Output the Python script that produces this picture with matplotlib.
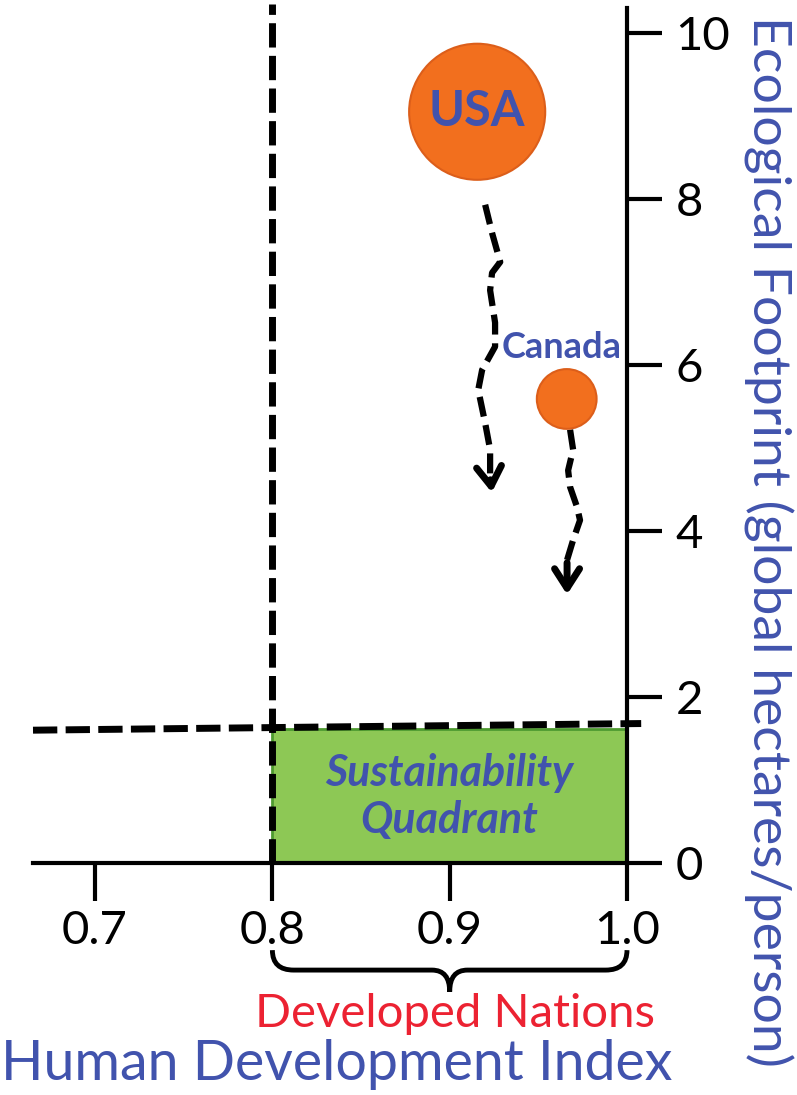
import matplotlib.pyplot as plt
from matplotlib.path import Path
from matplotlib.patches import PathPatch

plt.rcParams['font.family'] = ['Lato', 'DejaVu Sans']

# data ------------------------------------------------------------------
x_ticks = [0.7, 0.8, 0.9, 1.0]
x_labels = ['0.7', '0.8', '0.9', '1.0']
y_ticks = [0, 2, 4, 6, 8, 10]

countries = ['USA', 'Canada']
hdi = [0.9155, 0.966]
footprint = [9.05, 5.59]
bubble_size = [9600, 1850]

# sustainability thresholds
hdi_min = 0.8
footprint_max = [1.60, 1.68]   # dashed line drawn a little tilted in the original
quadrant_top = 1.61

# hand drawn trend arrows (HDI, footprint)
usa_arrow_x = [0.9200, 0.9239, 0.9285, 0.9239, 0.9228, 0.9256, 0.9256, 0.9183,
               0.9161, 0.9200, 0.9228, 0.9228, 0.9239]
usa_arrow_y = [7.93, 7.59, 7.24, 7.11, 6.90, 6.51, 6.22, 5.94, 5.70, 5.30, 4.98,
               4.65, 4.43]
can_arrow_x = [0.9679, 0.9696, 0.9668, 0.9679, 0.9718, 0.9735, 0.9696, 0.9662,
               0.9662]
can_arrow_y = [5.22, 4.98, 4.73, 4.53, 4.29, 4.13, 3.89, 3.65, 3.20]

BLUE = '#4153AD'
RED = '#EC2232'
ORANGE = '#F26F1E'

# figure ----------------------------------------------------------------
W, H = 797, 1095
fig = plt.figure(figsize=(W / 100, H / 100), dpi=100)
ax = fig.add_axes([33 / W, (H - 863) / H, (627 - 33) / W, (863 - 8) / H])
ax.set_xlim(0.665, 1.0)
ax.set_ylim(0, 10.3)

for s in ['top', 'left']:
    ax.spines[s].set_visible(False)
for s in ['bottom', 'right']:
    ax.spines[s].set_linewidth(3)
ax.yaxis.tick_right()
ax.set_xticks(x_ticks)
ax.set_xticklabels(x_labels)
ax.set_yticks(y_ticks)
ax.tick_params(axis='x', direction='out', length=27, width=3, pad=7, labelsize=34)
ax.tick_params(axis='y', direction='out', length=25, width=3, pad=10, labelsize=34)

# sustainability quadrant
ax.fill_between([hdi_min, 1.0], 0, quadrant_top, color='#8DC855',
                edgecolor='#4E9A30', lw=2, zorder=1)
ax.text(0.9, 0.8, 'Sustainability\nQuadrant', ha='center', va='center',
        fontsize=31, fontweight='bold', fontstyle='italic', color=BLUE,
        linespacing=1.2, zorder=3)

# threshold lines
ax.plot([hdi_min, hdi_min], [0, 10.35], ls=(0, (3.5, 1.2)), lw=5, color='black',
        clip_on=False, zorder=4)
ax.plot([0.665, 1.008], footprint_max, ls=(0, (3.5, 1.2)), lw=5, color='black',
        clip_on=False, zorder=4)

# countries
ax.scatter(hdi, footprint, s=bubble_size, color=ORANGE, edgecolor='#DC5E1A',
           lw=1.5, zorder=5)
ax.text(hdi[0], footprint[0], countries[0], ha='center', va='center',
        fontsize=35, fontweight='bold', color=BLUE, zorder=6)
ax.text(hdi[1] - 0.003, footprint[1] + 0.62, countries[1], ha='center',
        va='center', fontsize=26, fontweight='bold', color=BLUE, zorder=6)

# trend arrows
for xs, ys in [(usa_arrow_x, usa_arrow_y), (can_arrow_x, can_arrow_y)]:
    ax.plot(xs[:-1], ys[:-1], ls=(0, (3.2, 1.4)), lw=4.5, color='black', zorder=4)
    ax.annotate('', xy=(xs[-1], ys[-1]), xytext=(xs[-2], ys[-2]),
                arrowprops=dict(arrowstyle='->,head_length=1.4,head_width=0.9',
                                lw=5, color='black'), zorder=4)

# brace under developed nations
by, bend, btip = -1.29, -1.05, -1.55
verts = [(0.8, bend), (0.8, by), (0.812, by),
         (0.89, by),
         (0.9, by), (0.9, btip),
         (0.9, by), (0.91, by),
         (0.988, by),
         (1.0, by), (1.0, bend)]
codes = [Path.MOVETO, Path.CURVE3, Path.CURVE3,
         Path.LINETO,
         Path.CURVE3, Path.CURVE3,
         Path.CURVE3, Path.CURVE3,
         Path.LINETO,
         Path.CURVE3, Path.CURVE3]
ax.add_patch(PathPatch(Path(verts, codes), fill=False, lw=3.5, color='black',
                       clip_on=False))

fig.text(455 / W, 1 - 1014 / H, 'Developed Nations', ha='center', va='center',
         fontsize=34, color=RED)
fig.text(337 / W, 1 - 1065 / H, 'Human Development Index', ha='center',
         va='center', fontsize=40, color=BLUE)
fig.text(768 / W, 1 - 541 / H, 'Ecological Footprint (global hectares/person)',
         ha='center', va='center', rotation=270, fontsize=38.5, color=BLUE)

fig.savefig('out.png', dpi=100)
